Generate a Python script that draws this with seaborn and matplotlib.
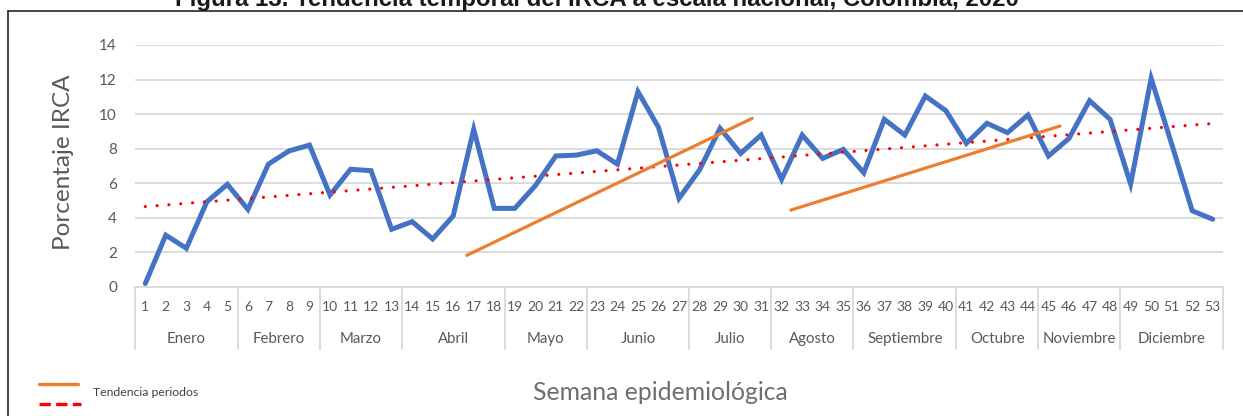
import numpy as np
import pandas as pd
import matplotlib
matplotlib.use("Agg")
import matplotlib.pyplot as plt
import seaborn as sns
from matplotlib.lines import Line2D
from matplotlib.transforms import blended_transform_factory

# ---------------- data ----------------
weeks = list(range(1, 54))
irca = [0.2, 3.0, 2.24, 4.93, 5.94, 4.49, 7.11, 7.87, 8.21, 5.32,
        6.81, 6.73, 3.34, 3.78, 2.78, 4.11, 9.12, 4.55, 4.55, 5.86,
        7.58, 7.63, 7.88, 7.11, 11.30, 9.24, 5.13, 6.77, 9.18, 7.73,
        8.79, 6.23, 8.79, 7.44, 7.96, 6.61, 9.70, 8.79, 11.05, 10.20,
        8.31, 9.47, 8.93, 9.95, 7.58, 8.60, 10.78, 9.70, 5.96, 12.07,
        8.27, 4.41, 3.92]
months = ["Enero", "Febrero", "Marzo", "Abril", "Mayo", "Junio", "Julio",
          "Agosto", "Septiembre", "Octubre", "Noviembre", "Diciembre"]
weeks_per_month = [5, 4, 4, 5, 4, 5, 4, 4, 5, 4, 4, 5]
period1_x = [16.66, 30.57]
period1_y = [1.83, 9.76]
period2_x = [32.45, 45.56]
period2_y = [4.45, 9.31]
y_ticks = [0, 2, 4, 6, 8, 10, 12, 14]

title = "Figura 13. Tendencia temporal del IRCA a escala nacional, Colombia, 2020"
ylabel = "Porcentaje IRCA"
xlabel = "Semana epidemiológica"
legend_label = "Tendencia periodos"

# ---------------- style ----------------
sns.set_theme(style="white")
plt.rcParams['font.family'] = ['Lato', 'DejaVu Sans']

BLUE = "#4472C4"
ORANGE = "#ED7D31"
RED = "#FF0000"
GRID = "#D9D9D9"
TXT = "#595959"

W, H = 1243, 416
fig = plt.figure(figsize=(W / 100, H / 100), dpi=100)
fig.patch.set_facecolor("white")


def fx(px):
    return px / W


def fy(py):
    return 1 - py / H


ax = fig.add_axes([fx(135), fy(287), fx(1223) - fx(135), fy(45) - fy(287)])

df = pd.DataFrame({"Semana": weeks, "IRCA": irca})

# overall linear trend (dotted red)
sns.regplot(data=df, x="Semana", y="IRCA", ax=ax, scatter=False, ci=None,
            truncate=True,
            line_kws=dict(color=RED, lw=2.3, ls=(0, (0.01, 3.7)),
                          dash_capstyle="round", zorder=3))

# main series
sns.lineplot(data=df, x="Semana", y="IRCA", ax=ax, color=BLUE, lw=3.6,
             solid_joinstyle="miter", zorder=2)

# period trends (orange)
sns.lineplot(x=period1_x, y=period1_y, ax=ax, color=ORANGE, lw=2.3, zorder=4)
sns.lineplot(x=period2_x, y=period2_y, ax=ax, color=ORANGE, lw=2.3, zorder=4)

ax.set_xlim(0.5, 53.5)
ax.set_ylim(0, 14)
ax.set_yticks(y_ticks)
ax.set_yticklabels([str(v) for v in y_ticks])
ax.yaxis.grid(True, color=GRID, lw=1.3)
ax.xaxis.grid(False)
ax.set_axisbelow(True)
for s in ["top", "right", "left"]:
    ax.spines[s].set_visible(False)
ax.spines["bottom"].set_color(GRID)
ax.spines["bottom"].set_linewidth(1.3)
ax.set_xlabel("")
ax.set_ylabel("")

ax.tick_params(axis="y", length=0, pad=13, labelsize=11, labelcolor=TXT)
ax.set_xticks(weeks)
ax.set_xticklabels([str(w) for w in weeks])
ax.tick_params(axis="x", length=0, pad=14.4, labelsize=10, labelcolor=TXT)
for lab in ax.get_xticklabels():
    lab.set_va("center")

# month groups
trans = blended_transform_factory(ax.transData, ax.transAxes)
axh = 287 - 45
bounds = [0.5]
for n in weeks_per_month:
    bounds.append(bounds[-1] + n)
for b in bounds:
    ax.plot([b, b], [0, -(349 - 287) / axh], transform=trans, color=GRID,
            lw=1.3, clip_on=False)
for i, m in enumerate(months):
    cx = (bounds[i] + bounds[i + 1]) / 2
    ax.text(cx, -(339 - 287) / axh, m, transform=trans, ha="center",
            va="center", fontsize=10.8, color=TXT)

# axis titles
fig.text(fx(64), fy(162), ylabel, rotation=90, ha="center", va="center",
         fontsize=17.5, color=TXT)
fig.text(fx(660), fy(392), xlabel, ha="center", va="center",
         fontsize=17.8, color="#6E6E6E")

# legend (manual, as in reference)
fig.add_artist(Line2D([fx(39), fx(78)], [fy(384), fy(384)], color=ORANGE,
                      lw=2.4, transform=fig.transFigure))
fig.add_artist(Line2D([fx(39), fx(81)], [fy(404), fy(404)], color=RED,
                      lw=2.4, ls=(0, (3.4, 1.6)), transform=fig.transFigure))
fig.text(fx(93), fy(392), legend_label, ha="left", va="center", fontsize=8.8,
         color="#404040")

# frame
fig.add_artist(Line2D([fx(8), fx(1243)], [fy(10.7), fy(10.7)], color="#262626",
                      lw=1.2, transform=fig.transFigure))
fig.add_artist(Line2D([fx(8), fx(8)], [fy(10.7), fy(416)], color="#262626",
                      lw=1.2, transform=fig.transFigure))

# title (cut at top as in reference)
fig.text(fx(597), fy(6), title, ha="center", va="baseline",
         family=["Liberation Sans Narrow", "Liberation Sans"],
         weight="bold", fontsize=17.3, color="#1a1a1a")

fig.savefig("out.png", dpi=100, facecolor="white")
